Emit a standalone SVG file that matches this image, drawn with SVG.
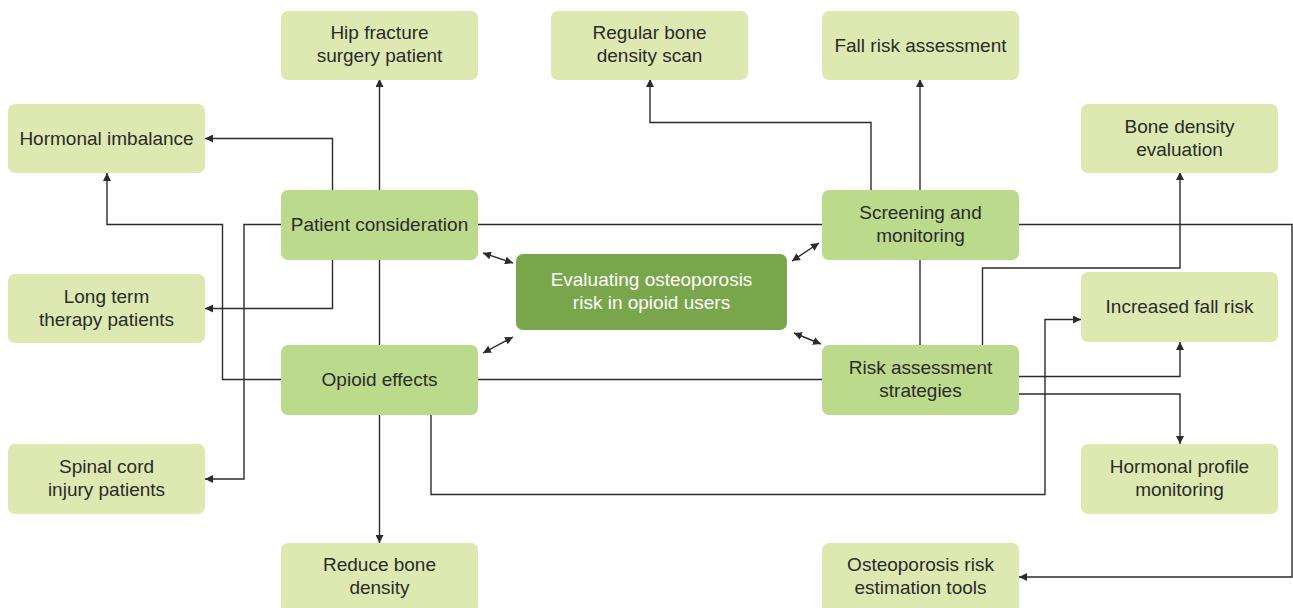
<svg xmlns="http://www.w3.org/2000/svg" width="1293" height="608" viewBox="0 0 1293 608">
<defs>
<marker id="ah" viewBox="0 0 10 10" refX="10" refY="5" markerWidth="8" markerHeight="8" markerUnits="userSpaceOnUse" orient="auto-start-reverse">
<path d="M0,0 L10,5 L0,10 z" fill="#2b2b2b"/>
</marker>
<style>
.c{fill:none;stroke:#2b2b2b;stroke-width:1.4}
.a{marker-end:url(#ah)}
.d{marker-start:url(#ah);marker-end:url(#ah)}
.l{fill:#dde9b1}
.m{fill:#bbda8b}
.k{fill:#79a64b}
text{font-family:"Liberation Sans",Arial,sans-serif;font-size:19px;fill:#2b2b2b;text-anchor:middle}
.w{fill:#ffffff}
</style>
</defs>
<rect width="1293" height="608" fill="#ffffff"/>
<g id="connectors">
<path class="c a" d="M332.5,190 V138.5 H205"/>
<path class="c a" d="M379.5,190 V79"/>
<path class="c" d="M379.5,259 V345"/>
<path class="c a" d="M379.5,414 V543"/>
<path class="c a" d="M332.5,259 V308.5 H205"/>
<path class="c a" d="M281,224.5 H244 V479 H205"/>
<path class="c a" d="M281,379.5 H222.5 V224.5 H107 V173"/>
<path class="c a" d="M431,414 V494.5 H1045 V319.5 H1081"/>
<path class="c" d="M477,379.5 H822"/>
<path class="c" d="M477,224.5 H822"/>
<path class="c a" d="M1018,224.5 H1292 V577 H1019"/>
<path class="c a" d="M871,190 V122.5 H650 V79"/>
<path class="c a" d="M920,190 V79"/>
<path class="c" d="M920,259 V345"/>
<path class="c a" d="M982.5,345 V268 H1180 V172"/>
<path class="c a" d="M1018,376.5 H1180 V342"/>
<path class="c a" d="M1018,394 H1180 V444"/>
<path class="c d" d="M483,253 L513,263"/>
<path class="c d" d="M483,353 L513,337"/>
<path class="c d" d="M792,261 L819,243"/>
<path class="c d" d="M794,333 L821,344"/>
</g>
<g id="hip"><rect class="l" x="281" y="11" width="197" height="69" rx="7"/><text x="379.5" y="39">Hip fracture</text><text x="379.5" y="62">surgery patient</text></g>
<g id="scan"><rect class="l" x="551" y="11" width="197" height="69" rx="7"/><text x="649.5" y="39">Regular bone</text><text x="649.5" y="62">density scan</text></g>
<g id="fall"><rect class="l" x="822" y="11" width="197" height="69" rx="7"/><text x="920.5" y="51.5">Fall risk assessment</text></g>
<g id="hormonal"><rect class="l" x="8" y="104" width="197" height="69" rx="7"/><text x="106.5" y="144.5">Hormonal imbalance</text></g>
<g id="bde"><rect class="l" x="1081" y="104" width="197" height="69" rx="7"/><text x="1179.5" y="133">Bone density</text><text x="1179.5" y="156">evaluation</text></g>
<g id="patient"><rect class="m" x="281" y="190" width="197" height="70" rx="7"/><text x="379.5" y="230.5">Patient consideration</text></g>
<g id="screening"><rect class="m" x="822" y="190" width="197" height="70" rx="7"/><text x="920.5" y="219">Screening and</text><text x="920.5" y="242">monitoring</text></g>
<g id="center"><rect class="k" x="516" y="254" width="271" height="76" rx="7"/><text class="w" x="651.5" y="286">Evaluating osteoporosis</text><text class="w" x="651.5" y="309">risk in opioid users</text></g>
<g id="longterm"><rect class="l" x="8" y="274" width="197" height="69" rx="7"/><text x="106.5" y="303">Long term</text><text x="106.5" y="326">therapy patients</text></g>
<g id="incfall"><rect class="l" x="1081" y="272" width="197" height="70" rx="7"/><text x="1179.5" y="313">Increased fall risk</text></g>
<g id="opioid"><rect class="m" x="281" y="345" width="197" height="70" rx="7"/><text x="379.5" y="385.5">Opioid effects</text></g>
<g id="risk"><rect class="m" x="822" y="345" width="197" height="70" rx="7"/><text x="920.5" y="374">Risk assessment</text><text x="920.5" y="397">strategies</text></g>
<g id="spinal"><rect class="l" x="8" y="444" width="197" height="70" rx="7"/><text x="106.5" y="473">Spinal cord</text><text x="106.5" y="496">injury patients</text></g>
<g id="hpm"><rect class="l" x="1081" y="444" width="197" height="70" rx="7"/><text x="1179.5" y="473">Hormonal profile</text><text x="1179.5" y="496">monitoring</text></g>
<g id="reduce"><rect class="l" x="281" y="543" width="197" height="70" rx="7"/><text x="379.5" y="571">Reduce bone</text><text x="379.5" y="594">density</text></g>
<g id="tools"><rect class="l" x="822" y="543" width="197" height="70" rx="7"/><text x="920.5" y="571">Osteoporosis risk</text><text x="920.5" y="594">estimation tools</text></g>
</svg>
